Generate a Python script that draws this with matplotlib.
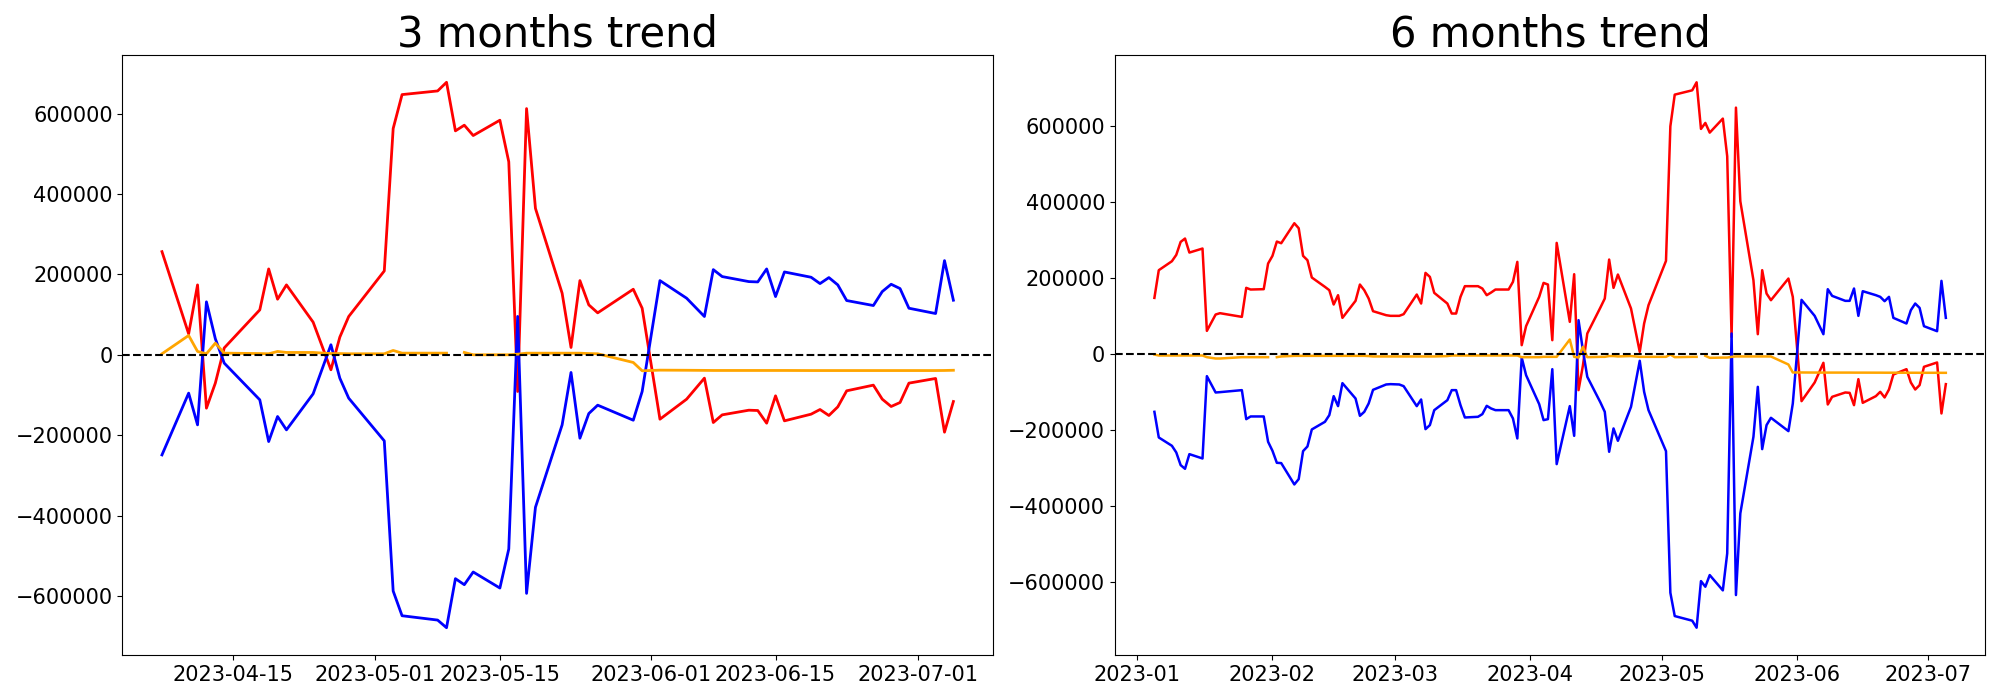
import numpy as np
import pandas as pd
import matplotlib
matplotlib.use("Agg")
import matplotlib.pyplot as plt

nan = np.nan

# ---------------- 3 months data ----------------
dates_3m = ["2023-04-07", "2023-04-10", "2023-04-11", "2023-04-12", "2023-04-13", "2023-04-14",
            "2023-04-18", "2023-04-19", "2023-04-20", "2023-04-21", "2023-04-24", "2023-04-26",
            "2023-04-27", "2023-04-28",
            "2023-05-02", "2023-05-03", "2023-05-04", "2023-05-08", "2023-05-09", "2023-05-10",
            "2023-05-11", "2023-05-12", "2023-05-15", "2023-05-16", "2023-05-17", "2023-05-18",
            "2023-05-19", "2023-05-22", "2023-05-23", "2023-05-24", "2023-05-25", "2023-05-26",
            "2023-05-30", "2023-05-31",
            "2023-06-02", "2023-06-05", "2023-06-07", "2023-06-08", "2023-06-09", "2023-06-12",
            "2023-06-13", "2023-06-14", "2023-06-15", "2023-06-16", "2023-06-19", "2023-06-20",
            "2023-06-21", "2023-06-22", "2023-06-23", "2023-06-26", "2023-06-27", "2023-06-28",
            "2023-06-29", "2023-06-30",
            "2023-07-03", "2023-07-04", "2023-07-05"]

red_3m = [256500, 52100, 173800, -132800, -70500, 17000, 111700, 213500, 138200, 173800, 81100, -37300, 43900, 95200,
          208500, 562700, 647100, 656200, 677700, 556900, 571000, 545300, 583400, 480000, -91300, 612300, 364100,
          153100, 18200, 184500, 124100, 104300, 163000, 115800,
          -160200, -110400, -58100, -168500, -149400, -137800, -138600, -170100, -102100, -164300, -147700, -136100,
          -151000, -129500, -89600, -75500, -110400, -128600, -118700, -70500,
          -58900, -192500, -116200]

blue_3m = [-249000, -95400, -174300, 131700, 40000, -20700, -112000, -215800, -153500, -186700, -97100, 24900,
           -58100, -107900,
           -214100, -587600, -649000, -659800, -678800, -556800, -571800, -540200, -580100, -483000, 95400,
           -593400, -379300, -174300, -44000, -207500, -146100, -125300, -162700, -91300,
           184500, 140700, 95200, 211800, 194500, 182000, 181200, 213500, 144800, 206000, 192800, 177100,
           192000, 173800, 134900, 122500, 157200, 175400, 164700, 115800,
           102600, 234200, 135700]

orange_3m = [2500, 48000, 8300, 2500, 29000, 4100, 3000, 2500, 8300, 5800, 5800, 3000, 3000, 2500,
             2500, 10800, 4100, 4100, 4100, nan, 5800, 0, 0, 0, 1500, 4000, 4000, 4000, 4000, 4000,
             3000, 2500, -19100, -39800,
             -38200, -38500, -38800, -39000, -39000, -39000, -39000, -39000, -39000, -39000, -39200,
             -39200, -39200, -39200, -39200, -39200, -39200, -39200, -39200, -39200,
             -39200, -39000, -38500]

# ---------------- 6 months data ----------------
dates_6m = (["2023-01-%02d" % d for d in [5, 6, 9, 10, 11, 12, 13, 16, 17, 19, 20, 25, 26, 27, 30, 31]] +
            ["2023-02-%02d" % d for d in [1, 2, 3, 6, 7, 8, 9, 10, 13, 14, 15, 16, 17, 20, 21, 22, 23, 24, 27, 28]] +
            ["2023-03-%02d" % d for d in [2, 3, 6, 7, 8, 9, 10, 13, 14, 15, 16, 17, 20, 21, 22, 23, 24, 27, 28,
                                          29, 30, 31]] +
            ["2023-04-%02d" % d for d in [3, 4, 5, 6, 7, 10, 11, 12, 13, 14, 17, 18, 19, 20, 21, 24, 26, 27, 28]] +
            ["2023-05-%02d" % d for d in [2, 3, 4, 8, 9, 10, 11, 12, 15, 16, 17, 18, 19, 22, 23, 24, 25, 26, 30,
                                          31]] +
            ["2023-06-%02d" % d for d in [2, 5, 7, 8, 9, 12, 13, 14, 15, 16, 19, 20, 21, 22, 23, 26, 27, 28, 29,
                                          30]] +
            ["2023-07-%02d" % d for d in [3, 4, 5]])

red_6m = [148200, 221100, 244700, 261400, 295600, 304400, 267500, 278100, 61400, 104400, 107900, 98200,
          174600, 170200, 171100, 238600,
          258800, 296500, 292100, 344700, 331600, 258800, 247400, 201800, 177200, 168400, 130700, 155300,
          95600, 140400, 183300, 168400, 146500, 113200, 102600, 100900,
          100900, 105300, 157000, 133300, 214000, 203500, 161400, 133300, 107000, 107000, 150900, 179000,
          179000, 172800, 155300, 162300, 170200, 170200, 190400, 243000, 23700, 73700,
          150900, 187700, 183300, 36800, 293000, 85100, 210500, -94700, -30000, 54400, 122800, 146500,
          249100, 174600, 209700, 120200, 6100, 80700, 128900,
          245600, 600000, 683300, 694700, 715800, 593000, 608800, 583300, 620200, 521000, 45000, 649100,
          402600, 194700, 52600, 221100, 159600, 142100, 199100, 150900,
          -123700, -74600, -22800, -132500, -112300, -100900, -101800, -134200, -65800, -128100, -110500,
          -99100, -114000, -93000, -53500, -39500, -74600, -93000, -81600, -33300,
          -21900, -156100, -78900]

blue_6m = [-151800, -219300, -241200, -258800, -292100, -301800, -263200, -274600, -57900, -100900, -100000,
           -94700, -171100, -164000, -164000, -230700,
           -254400, -286000, -286800, -343000, -328900, -255300, -243000, -198200, -178100, -160500, -110500,
           -136800, -76300, -116700, -162300, -151800, -129800, -93900, -79800, -78900,
           -79800, -84200, -136800, -119300, -197400, -186800, -147400, -121100, -94700, -94700, -134200,
           -166700, -164900, -157900, -136000, -143000, -147400, -147400, -169300, -221900, -8800, -55300,
           -131600, -173700, -171100, -39500, -289500, -136800, -215000, 89500, 10000, -59600, -127000,
           -151800, -257000, -195600, -228100, -138600, -17500, -99100, -147400,
           -255300, -628100, -689500, -701700, -720200, -597400, -612300, -581600, -621900, -524600, 54400,
           -634200, -419300, -217500, -86000, -250000, -186800, -167500, -202600, -130000,
           143000, 100900, 52600, 171100, 153500, 140400, 140400, 172800, 100900, 165800, 155300, 150900,
           139500, 150900, 95600, 80700, 115800, 133300, 121900, 73700,
           60500, 193000, 95600]

orange_6m = [-1000, -3500, -3500, -3500, -3500, -3500, -3500, -3500, -7900, -11400, -11400, -7900, -7900,
             -7900, -7900, -7900,
             nan, -7900, -6000, -4400, -4400, -4400, -4400, -4400, -4400, -4400, -4400, -4400, -4400, -4400,
             -4400, -4400, -5000, -6000, -6000, -6000,
             -6000, -6000, -6000, -6000, -6000, -6000, -6000, -5000, -3500, -3500, -3500, -3500, -3500, -3500,
             -3500, -3500, -3500, -3500, -3500, -3500, -7900, -7900,
             -7900, -7000, -7000, -7000, -7000, 38600, -7000, -8800, 19300, -7900, -7000, -7000, -5000, -5000,
             -6000, -5000, -7000, -7000, -7000,
             -7000, -900, -7900, -7000, -7000, nan, -4400, -9600, -9000, -9000, -7000, -6000, -6000, -6000,
             -6000, -6000, -6000, -6100, -27200, -48200,
             -48200, -48400, -48500, -48500, -48500, -48500, -48500, -48600, -48600, -48600, -48700, -48700,
             -48800, -48800, -48800, -48900, -48900, -48900, -49000, -49000,
             -49000, -49100, -49100]

titles = ["3 months trend", "6 months trend"]

fig, axes = plt.subplots(1, 2, figsize=(20, 7), dpi=100)
fig.subplots_adjust(left=0.0612, right=0.9927, bottom=0.0643, top=0.9214, wspace=0.140)

panels = [
    (dates_3m, red_3m, blue_3m, orange_3m, 2.0),
    (dates_6m, red_6m, blue_6m, orange_6m, 1.8),
]

for ax, (dts, r, b, o, lw), title in zip(axes, panels, titles):
    x = pd.to_datetime(dts)
    ax.plot(x, r, color="red", lw=lw)
    ax.plot(x, b, color="blue", lw=lw)
    ax.plot(x, o, color="orange", lw=lw)
    ax.axhline(0, color="black", linestyle="--", lw=1.5)
    ax.set_title(title, fontsize=30)
    ax.tick_params(axis="both", labelsize=15)

fig.savefig("out.png", dpi=100)
